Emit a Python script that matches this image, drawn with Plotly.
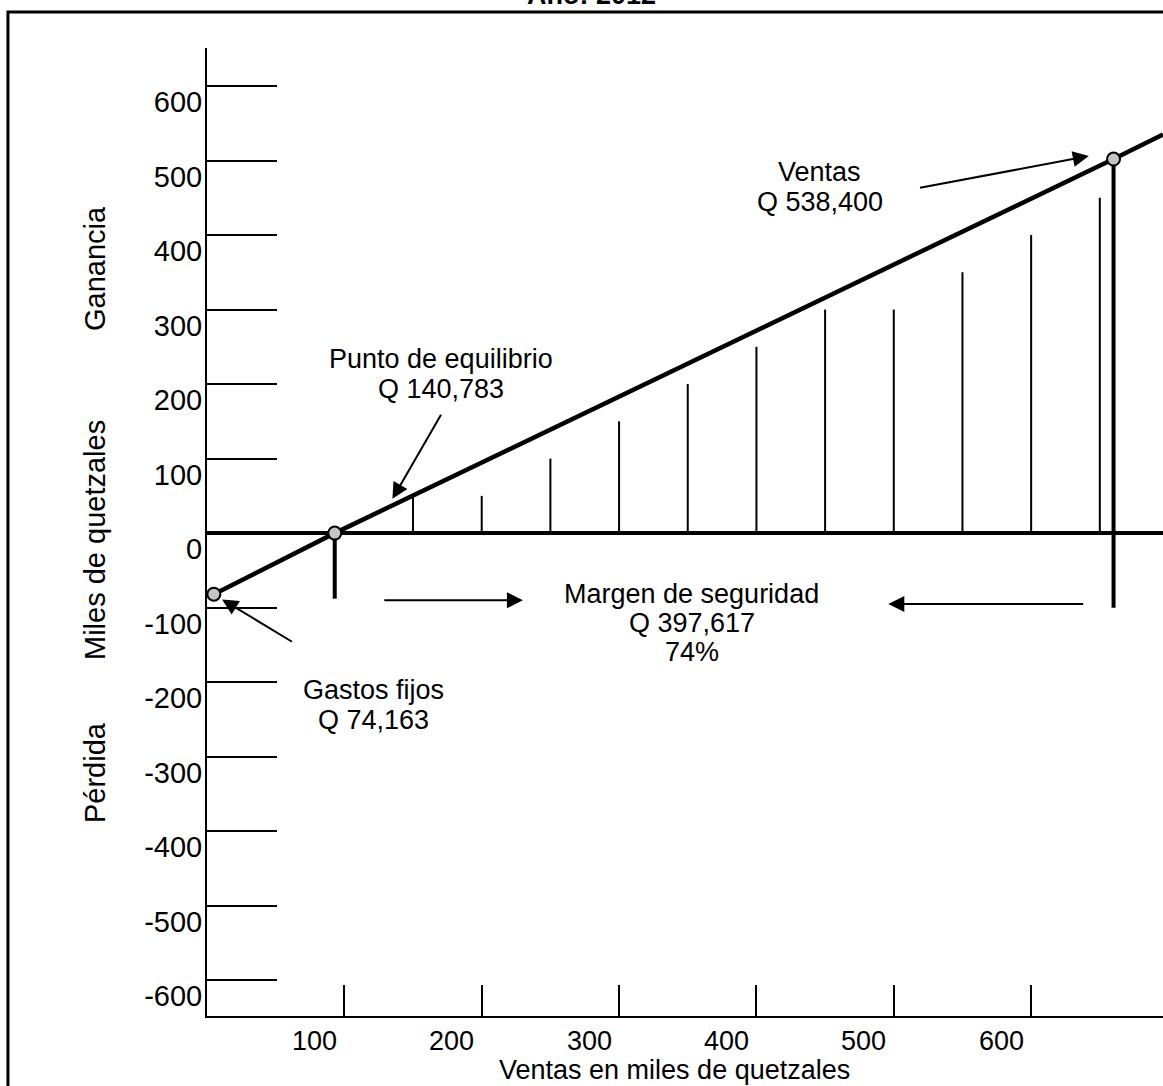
import plotly.graph_objects as go

# ---------------- data (thousands of quetzales) ----------------
line_x = [5, 93, 660, 696]          # break-even line
line_y = [-82, 0, 502, 535]

point_x = [5, 93, 660]              # Gastos fijos, Punto de equilibrio, Ventas
point_y = [-82, 0, 502]

stem_x = [150, 200, 250, 300, 350, 400, 450, 500, 550, 600, 650]
stem_y = [50, 50, 100, 150, 200, 250, 300, 300, 350, 400, 450]

drop_x = [93, 660]                  # vertical markers at break-even and sales
drop_top = [0, 502]
drop_bottom = [-88, -100]

y_tick_vals = [600, 500, 400, 300, 200, 100, 0, -100, -200, -300, -400, -500, -600]
y_tick_text = ["600", "500", "400", "300", "200", "100", "0",
               "-100", "-200", "-300", "-400", "-500", "-600"]
x_tick_vals = [100, 200, 300, 400, 500, 600, 700]
x_tick_text = ["100", "200", "300", "400", "500", "600", "700"]

FONT = "Liberation Sans, Arial, sans-serif"

fig = go.Figure()

# stems
sx, sy = [], []
for x, h in zip(stem_x, stem_y):
    sx += [x, x, None]
    sy += [0, h, None]
fig.add_trace(go.Scatter(x=sx, y=sy, mode="lines",
                         line=dict(color="black", width=2), hoverinfo="skip"))

# drop lines
dx, dy = [], []
for x, t, b in zip(drop_x, drop_top, drop_bottom):
    dx += [x, x, None]
    dy += [t, b, None]
fig.add_trace(go.Scatter(x=dx, y=dy, mode="lines",
                         line=dict(color="black", width=4), hoverinfo="skip"))

# main line
fig.add_trace(go.Scatter(x=line_x, y=line_y, mode="lines",
                         line=dict(color="black", width=4.5), hoverinfo="skip"))

# key points
fig.add_trace(go.Scatter(x=point_x, y=point_y, mode="markers",
                         marker=dict(size=13, color="#c4c4c4",
                                     line=dict(color="black", width=2)),
                         hoverinfo="skip"))

annotations = []

# text blocks, one annotation per line to keep the tight line spacing
def text_block(x, y, lines, size=27, spacing=30):
    n = len(lines)
    for i, s in enumerate(lines):
        annotations.append(dict(x=x, y=y, xref="x", yref="y", text=s, showarrow=False,
                                xanchor="center", yanchor="middle",
                                yshift=((n - 1) / 2 - i) * spacing,
                                font=dict(family=FONT, size=size, color="black")))

text_block(446, 464, ["Ventas", "Q 538,400"])
text_block(170, 214, ["Punto de equilibrio", "Q 140,783"])
text_block(353, -121, ["Margen de seguridad", "Q 397,617", "74%"], spacing=29)
text_block(121, -231, ["Gastos fijos", "Q 74,163"])

# arrows (tip x,y ; tail ax,ay)
def arrow(x, y, ax, ay):
    annotations.append(dict(x=x, y=y, ax=ax, ay=ay, xref="x", yref="y",
                            axref="x", ayref="y", text="", showarrow=True,
                            arrowhead=2, arrowsize=1.6, arrowwidth=2,
                            arrowcolor="black"))

arrow(642, 506, 518, 463)      # Ventas
arrow(135, 46, 171, 161)       # Punto de equilibrio
arrow(11, -89, 63, -147)       # Gastos fijos
arrow(230, -90, 128, -90)      # Margen -> right
arrow(496, -95, 639, -95)      # Margen <- left

# x tick labels (shifted left of the tick marks as in the original)
for v, t in zip(x_tick_vals, x_tick_text):
    annotations.append(dict(x=v, y=0, xref="x", yref="paper", text=t,
                            showarrow=False, xanchor="center", yanchor="top",
                            xshift=-30, yshift=-8,
                            font=dict(family=FONT, size=27, color="black")))

# axis titles and side labels
annotations.append(dict(x=0.4895, y=-0.0558, xref="paper", yref="paper",
                        text="Ventas en miles de quetzales", showarrow=False,
                        xanchor="center", yanchor="middle",
                        font=dict(family=FONT, size=27, color="black")))
for s, yy in [("Ganancia", 0.7727), ("Miles de quetzales", 0.4917), ("Pérdida", 0.252)]:
    annotations.append(dict(x=-0.1172, y=yy, xref="paper", yref="paper", text=s,
                            textangle=-90, showarrow=False, xanchor="center",
                            yanchor="middle",
                            font=dict(family=FONT, size=29, color="black")))

# title (cut off at the top edge, as in the original)
annotations.append(dict(x=0.4027, y=1.037, xref="paper", yref="paper",
                        text="<b>Año: 2012</b>", showarrow=False,
                        xanchor="center", yanchor="bottom",
                        font=dict(family=FONT, size=27, color="black")))

fig.update_layout(
    width=1163, height=1086,
    margin=dict(l=207, r=0, t=48, b=70),
    paper_bgcolor="white", plot_bgcolor="white",
    showlegend=False,
    annotations=annotations,
    shapes=[dict(type="rect", xref="paper", yref="paper",
                 x0=-0.2082, x1=1.05, y0=-0.12, y1=1.0372,
                 line=dict(color="black", width=3), layer="below")],
    xaxis=dict(range=[0, 696], showline=True, linecolor="black", linewidth=2,
               tickvals=x_tick_vals[:-1], ticks="inside", ticklen=31,
               tickwidth=1.5, tickcolor="black", showticklabels=False,
               showgrid=False, zeroline=False, fixedrange=True),
    yaxis=dict(range=[-648, 651], showline=True, linecolor="black", linewidth=2,
               tickvals=y_tick_vals, ticktext=y_tick_text, ticks="inside",
               ticklen=70, tickwidth=1.5, tickcolor="black",
               ticklabelshift=16, ticklabelstandoff=-3,
               tickfont=dict(family=FONT, size=29, color="black"),
               showgrid=False, zeroline=True, zerolinecolor="black",
               zerolinewidth=4, fixedrange=True),
)

fig.write_html("out.html",
               config={"displayModeBar": False},
               post_script="document.body.style.margin='0px';document.body.style.overflow='hidden';")
